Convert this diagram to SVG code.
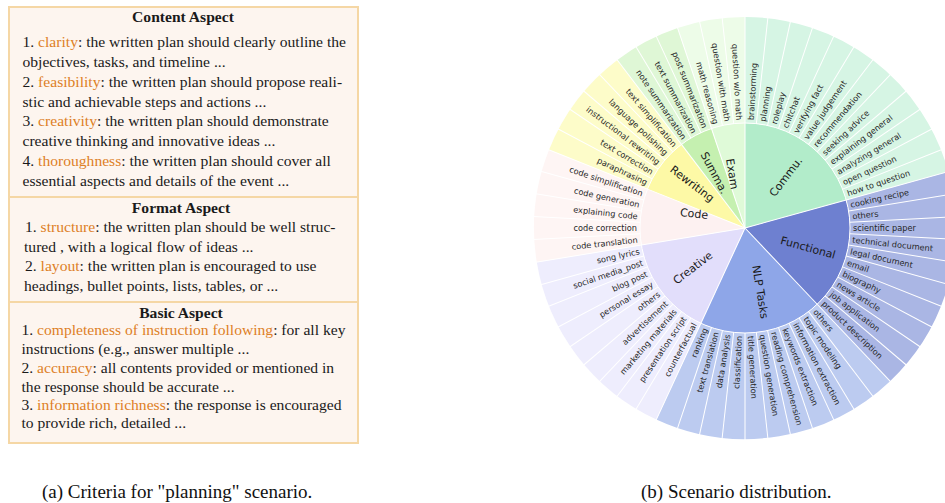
<svg xmlns="http://www.w3.org/2000/svg" width="945" height="503" viewBox="0 0 945 503">
<style>
.box{fill:#fdf5ef;stroke:#f5d7a5;stroke-width:2}
.t{font-family:"Liberation Serif","Times New Roman",serif;font-size:15.6px;fill:#1a1a1a}
.h{font-weight:bold;text-anchor:middle}
.o{fill:#dd7f26}
.cap{font-family:"Liberation Serif","Times New Roman",serif;font-size:19px;fill:#111}
.ring{fill:none}
.sep{stroke:#fff;stroke-width:1;fill:none}
.lf{font-family:"DejaVu Sans",sans-serif;font-size:8.2px;fill:#262626;dominant-baseline:central}
.lr text{text-anchor:start}
.ll text{text-anchor:end}
.cat{font-family:"DejaVu Sans",sans-serif;font-size:11px;fill:#1a1a1a;text-anchor:middle;dominant-baseline:central}
</style>

<g id="content-aspect">
<rect class="box" x="9" y="7" width="349" height="190"/>
<text class="t h" x="183" y="22">Content Aspect</text>
<text class="t" x="22.5" y="47">1. <tspan class="o">clarity</tspan>: the written plan should clearly outline the</text>
<text class="t" x="22.5" y="67">objectives, tasks, and timeline ...</text>
<text class="t" x="22.5" y="87">2. <tspan class="o">feasibility</tspan>: the written plan should propose reali-</text>
<text class="t" x="22.5" y="107">stic and achievable steps and actions ...</text>
<text class="t" x="22.5" y="126">3. <tspan class="o">creativity</tspan>: the written plan should demonstrate</text>
<text class="t" x="22.5" y="146">creative thinking and innovative ideas ...</text>
<text class="t" x="22.5" y="166">4. <tspan class="o">thoroughness</tspan>: the written plan should cover all</text>
<text class="t" x="22.5" y="186">essential aspects and details of the event ...</text>
</g>

<g id="format-aspect">
<rect class="box" x="9" y="197" width="349" height="105"/>
<text class="t h" x="181" y="213">Format Aspect</text>
<text class="t" x="25" y="232">1. <tspan class="o">structure</tspan>: the written plan should be well struc-</text>
<text class="t" x="24" y="252">tured , with a logical flow of ideas ...</text>
<text class="t" x="25" y="271">2. <tspan class="o">layout</tspan>: the written plan is encouraged to use</text>
<text class="t" x="24" y="291">headings, bullet points, lists, tables, or ...</text>
</g>

<g id="basic-aspect">
<rect class="box" x="9" y="302" width="349" height="141"/>
<text class="t h" x="181" y="318">Basic Aspect</text>
<text class="t" x="21.5" y="335">1. <tspan class="o">completeness of instruction following</tspan>: for all key</text>
<text class="t" x="21.5" y="354">instructions (e.g., answer multiple ...</text>
<text class="t" x="21.5" y="373">2. <tspan class="o">accuracy</tspan>: all contents provided or mentioned in</text>
<text class="t" x="21.5" y="392">the response should be accurate ...</text>
<text class="t" x="21.5" y="410">3. <tspan class="o">information richness</tspan>: the response is encouraged</text>
<text class="t" x="21.5" y="428">to provide rich, detailed ...</text>
</g>

<g id="sunburst" transform="translate(745,228)">
<g id="inner-ring" class="ring" stroke-width="105">
<circle r="52.5" stroke="#b2ecca" stroke-dasharray="68.248 400" transform="rotate(-90)"/>
<circle r="52.5" stroke="#6e80d0" stroke-dasharray="56.874 400" transform="rotate(-15.517)"/>
<circle r="52.5" stroke="#8ea6e8" stroke-dasharray="62.561 400" transform="rotate(46.552)"/>
<circle r="52.5" stroke="#e2defb" stroke-dasharray="51.186 400" transform="rotate(114.828)"/>
<circle r="52.5" stroke="#fdf1f1" stroke-dasharray="28.437 400" transform="rotate(170.690)"/>
<circle r="52.5" stroke="#fdf9a6" stroke-dasharray="28.437 400" transform="rotate(201.724)"/>
<circle r="52.5" stroke="#c5f0b0" stroke-dasharray="17.062 400" transform="rotate(232.759)"/>
<circle r="52.5" stroke="#dffad8" stroke-dasharray="17.062 400" transform="rotate(251.379)"/>
</g>
<g id="outer-ring" class="ring" stroke-width="106">
<circle r="158" stroke="#d6f5e4" stroke-dasharray="205.396 1200" transform="rotate(-90)"/>
<circle r="158" stroke="#aab6e4" stroke-dasharray="171.163 1200" transform="rotate(-15.517)"/>
<circle r="158" stroke="#bccbf0" stroke-dasharray="188.279 1200" transform="rotate(46.552)"/>
<circle r="158" stroke="#eeedfd" stroke-dasharray="154.047 1200" transform="rotate(114.828)"/>
<circle r="158" stroke="#fef5f4" stroke-dasharray="85.582 1200" transform="rotate(170.690)"/>
<circle r="158" stroke="#fdfcc9" stroke-dasharray="85.582 1200" transform="rotate(201.724)"/>
<circle r="158" stroke="#dff7d6" stroke-dasharray="51.349 1200" transform="rotate(232.759)"/>
<circle r="158" stroke="#edfce8" stroke-dasharray="51.349 1200" transform="rotate(251.379)"/>
</g>
<g id="separators" class="sep">
<circle r="105"/>
<line y1="0" y2="-105" transform="rotate(0)"/>
<line y1="0" y2="-105" transform="rotate(74.483)"/>
<line y1="0" y2="-105" transform="rotate(136.552)"/>
<line y1="0" y2="-105" transform="rotate(204.828)"/>
<line y1="0" y2="-105" transform="rotate(260.690)"/>
<line y1="0" y2="-105" transform="rotate(291.724)"/>
<line y1="0" y2="-105" transform="rotate(322.759)"/>
<line y1="0" y2="-105" transform="rotate(341.379)"/>
<line y1="-105" y2="-212" transform="rotate(0)"/>
<line y1="-105" y2="-212" transform="rotate(6.207)"/>
<line y1="-105" y2="-212" transform="rotate(12.414)"/>
<line y1="-105" y2="-212" transform="rotate(18.621)"/>
<line y1="-105" y2="-212" transform="rotate(24.828)"/>
<line y1="-105" y2="-212" transform="rotate(31.034)"/>
<line y1="-105" y2="-212" transform="rotate(37.241)"/>
<line y1="-105" y2="-212" transform="rotate(43.448)"/>
<line y1="-105" y2="-212" transform="rotate(49.655)"/>
<line y1="-105" y2="-212" transform="rotate(55.862)"/>
<line y1="-105" y2="-212" transform="rotate(62.069)"/>
<line y1="-105" y2="-212" transform="rotate(68.276)"/>
<line y1="-105" y2="-212" transform="rotate(74.483)"/>
<line y1="-105" y2="-212" transform="rotate(80.690)"/>
<line y1="-105" y2="-212" transform="rotate(86.897)"/>
<line y1="-105" y2="-212" transform="rotate(93.103)"/>
<line y1="-105" y2="-212" transform="rotate(99.310)"/>
<line y1="-105" y2="-212" transform="rotate(105.517)"/>
<line y1="-105" y2="-212" transform="rotate(111.724)"/>
<line y1="-105" y2="-212" transform="rotate(117.931)"/>
<line y1="-105" y2="-212" transform="rotate(124.138)"/>
<line y1="-105" y2="-212" transform="rotate(130.345)"/>
<line y1="-105" y2="-212" transform="rotate(136.552)"/>
<line y1="-105" y2="-212" transform="rotate(142.759)"/>
<line y1="-105" y2="-212" transform="rotate(148.966)"/>
<line y1="-105" y2="-212" transform="rotate(155.172)"/>
<line y1="-105" y2="-212" transform="rotate(161.379)"/>
<line y1="-105" y2="-212" transform="rotate(167.586)"/>
<line y1="-105" y2="-212" transform="rotate(173.793)"/>
<line y1="-105" y2="-212" transform="rotate(180)"/>
<line y1="-105" y2="-212" transform="rotate(186.207)"/>
<line y1="-105" y2="-212" transform="rotate(192.414)"/>
<line y1="-105" y2="-212" transform="rotate(198.621)"/>
<line y1="-105" y2="-212" transform="rotate(204.828)"/>
<line y1="-105" y2="-212" transform="rotate(211.034)"/>
<line y1="-105" y2="-212" transform="rotate(217.241)"/>
<line y1="-105" y2="-212" transform="rotate(223.448)"/>
<line y1="-105" y2="-212" transform="rotate(229.655)"/>
<line y1="-105" y2="-212" transform="rotate(235.862)"/>
<line y1="-105" y2="-212" transform="rotate(242.069)"/>
<line y1="-105" y2="-212" transform="rotate(248.276)"/>
<line y1="-105" y2="-212" transform="rotate(254.483)"/>
<line y1="-105" y2="-212" transform="rotate(260.690)"/>
<line y1="-105" y2="-212" transform="rotate(266.897)"/>
<line y1="-105" y2="-212" transform="rotate(273.103)"/>
<line y1="-105" y2="-212" transform="rotate(279.310)"/>
<line y1="-105" y2="-212" transform="rotate(285.517)"/>
<line y1="-105" y2="-212" transform="rotate(291.724)"/>
<line y1="-105" y2="-212" transform="rotate(297.931)"/>
<line y1="-105" y2="-212" transform="rotate(304.138)"/>
<line y1="-105" y2="-212" transform="rotate(310.345)"/>
<line y1="-105" y2="-212" transform="rotate(316.552)"/>
<line y1="-105" y2="-212" transform="rotate(322.759)"/>
<line y1="-105" y2="-212" transform="rotate(328.966)"/>
<line y1="-105" y2="-212" transform="rotate(335.172)"/>
<line y1="-105" y2="-212" transform="rotate(341.379)"/>
<line y1="-105" y2="-212" transform="rotate(347.586)"/>
<line y1="-105" y2="-212" transform="rotate(353.793)"/>
</g>
<g id="leaf-labels-right" class="lf lr">
<text x="108" transform="rotate(-86.897)">brainstorming</text>
<text x="108" transform="rotate(-80.690)">planning</text>
<text x="108" transform="rotate(-74.483)">roleplay</text>
<text x="108" transform="rotate(-68.276)">chitchat</text>
<text x="108" transform="rotate(-62.069)">verifying fact</text>
<text x="108" transform="rotate(-55.862)">value judgement</text>
<text x="108" transform="rotate(-49.655)">recommendation</text>
<text x="108" transform="rotate(-43.448)">seeking advice</text>
<text x="108" transform="rotate(-37.241)">explaining general</text>
<text x="108" transform="rotate(-31.034)">analyzing general</text>
<text x="108" transform="rotate(-24.828)">open question</text>
<text x="108" transform="rotate(-18.621)">how to question</text>
<text x="108" transform="rotate(-12.414)">cooking recipe</text>
<text x="108" transform="rotate(-6.207)">others</text>
<text x="108" transform="rotate(0)">scientific paper</text>
<text x="108" transform="rotate(6.207)">technical document</text>
<text x="108" transform="rotate(12.414)">legal document</text>
<text x="108" transform="rotate(18.621)">email</text>
<text x="108" transform="rotate(24.828)">biography</text>
<text x="108" transform="rotate(31.034)">news article</text>
<text x="108" transform="rotate(37.241)">job application</text>
<text x="108" transform="rotate(43.448)">product description</text>
<text x="108" transform="rotate(49.655)">others</text>
<text x="108" transform="rotate(55.862)">topic modeling</text>
<text x="108" transform="rotate(62.069)">information extraction</text>
<text x="108" transform="rotate(68.276)">keywords extraction</text>
<text x="108" transform="rotate(74.483)">reading comprehension</text>
<text x="108" transform="rotate(80.690)">question generation</text>
<text x="108" transform="rotate(86.897)">title generation</text>
</g>
<g id="leaf-labels-left" class="lf ll">
<text x="-108" transform="rotate(-86.897)">classification</text>
<text x="-108" transform="rotate(-80.690)">data analysis</text>
<text x="-108" transform="rotate(-74.483)">text translation</text>
<text x="-108" transform="rotate(-68.276)">ranking</text>
<text x="-108" transform="rotate(-62.069)">counterfactual</text>
<text x="-108" transform="rotate(-55.862)">presentation script</text>
<text x="-108" transform="rotate(-49.655)">marketing materials</text>
<text x="-108" transform="rotate(-43.448)">advertisement</text>
<text x="-108" transform="rotate(-37.241)">others</text>
<text x="-108" transform="rotate(-31.034)">personal essay</text>
<text x="-108" transform="rotate(-24.828)">blog post</text>
<text x="-108" transform="rotate(-18.621)">social media_post</text>
<text x="-108" transform="rotate(-12.414)">song lyrics</text>
<text x="-108" transform="rotate(-6.207)">code translation</text>
<text x="-108" transform="rotate(0)">code correction</text>
<text x="-108" transform="rotate(6.207)">explaining code</text>
<text x="-108" transform="rotate(12.414)">code generation</text>
<text x="-108" transform="rotate(18.621)">code simplification</text>
<text x="-108" transform="rotate(24.828)">paraphrasing</text>
<text x="-108" transform="rotate(31.034)">text correction</text>
<text x="-108" transform="rotate(37.241)">instructional rewriting</text>
<text x="-108" transform="rotate(43.448)">language polishing</text>
<text x="-108" transform="rotate(49.655)">text simplification</text>
<text x="-108" transform="rotate(55.862)">note summarization</text>
<text x="-108" transform="rotate(62.069)">text summarization</text>
<text x="-108" transform="rotate(68.276)">post summarization</text>
<text x="-108" transform="rotate(74.483)">math reasoning</text>
<text x="-108" transform="rotate(80.690)">question with math</text>
<text x="-108" transform="rotate(86.897)">question w/o math</text>
</g>
</g>

<g id="category-labels" class="cat">
<text transform="translate(786,177) rotate(-52.76)">Commu.</text>
<text transform="translate(808,248) rotate(15.52)">Functional</text>
<text transform="translate(760,292) rotate(80.69)">NLP Tasks</text>
<text transform="translate(693,268) rotate(-37.24)">Creative</text>
<text transform="translate(694,214) rotate(6.21)">Code</text>
<text transform="translate(692,184) rotate(37.24)">Rewriting</text>
<text transform="translate(714,173) rotate(62.07)">Summa.</text>
<text transform="translate(732,174) rotate(80.69)">Exam</text>
</g>

<g id="captions">
<text class="cap" x="42" y="498">(a) Criteria for "planning" scenario.</text>
<text class="cap" x="641" y="498">(b) Scenario distribution.</text>
</g>
</svg>
